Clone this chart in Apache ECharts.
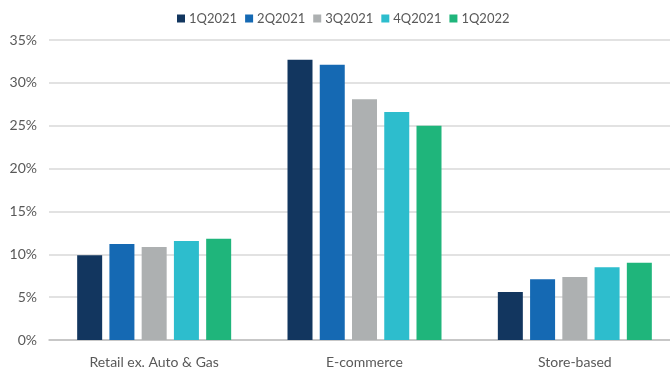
<!DOCTYPE html>
<html><head><meta charset="utf-8">
<script src="https://cdn.jsdelivr.net/npm/echarts@6/dist/echarts.min.js"></script>
<style>html,body{margin:0;padding:0;background:#fff}#c{width:670px;height:372px}</style>
</head><body><div id="c"></div>
<script>
const categories = ['Retail ex. Auto & Gas', 'E-commerce', 'Store-based'];
const seriesNames = ['1Q2021', '2Q2021', '3Q2021', '4Q2021', '1Q2022'];
const s1Q2021 = [9.9, 32.7, 5.6];
const s2Q2021 = [11.2, 32.1, 7.1];
const s3Q2021 = [10.85, 28.1, 7.35];
const s4Q2021 = [11.55, 26.6, 8.5];
const s1Q2022 = [11.8, 25.0, 9.0];
const colors = ['#12365f', '#1569b3', '#adb0b1', '#2dbdcd', '#1fb57b'];
const allData = [s1Q2021, s2Q2021, s3Q2021, s4Q2021, s1Q2022];
const font = 'Lato, "Noto Sans", sans-serif';
const chart = echarts.init(document.getElementById('c'));
chart.setOption({
  animation: false,
  textStyle: { fontFamily: font },
  legend: {
    top: 7, left: 172, itemWidth: 8, itemHeight: 8, itemGap: 8,
    icon: 'rect',
    textStyle: { color: '#595959', fontSize: 13, fontFamily: font, padding: [0,0,0,-1] },
    data: seriesNames
  },
  grid: { left: 49, width: 631, top: 40, height: 300, outerBoundsMode: 'none', containLabel: false },
  xAxis: {
    type: 'category', data: categories,
    axisLine: { lineStyle: { color: '#bfbfbf', width: 1.5 } },
    axisTick: { show: false },
    axisLabel: { color: '#595959', fontSize: 14, margin: 15, fontFamily: font }
  },
  yAxis: {
    type: 'value', min: 0, max: 35, interval: 5,
    axisLabel: { formatter: '{value}%', color: '#595959', fontSize: 14, margin: 12, fontFamily: font },
    splitLine: { lineStyle: { color: '#d9d9d9', width: 1.5 } },
    axisLine: { show: false }, axisTick: { show: false }
  },
  series: seriesNames.map((n, i) => ({
    name: n, type: 'bar', data: allData[i], barWidth: 25, barGap: '29%',
    itemStyle: { color: colors[i] }
  }))
});
</script></body></html>
